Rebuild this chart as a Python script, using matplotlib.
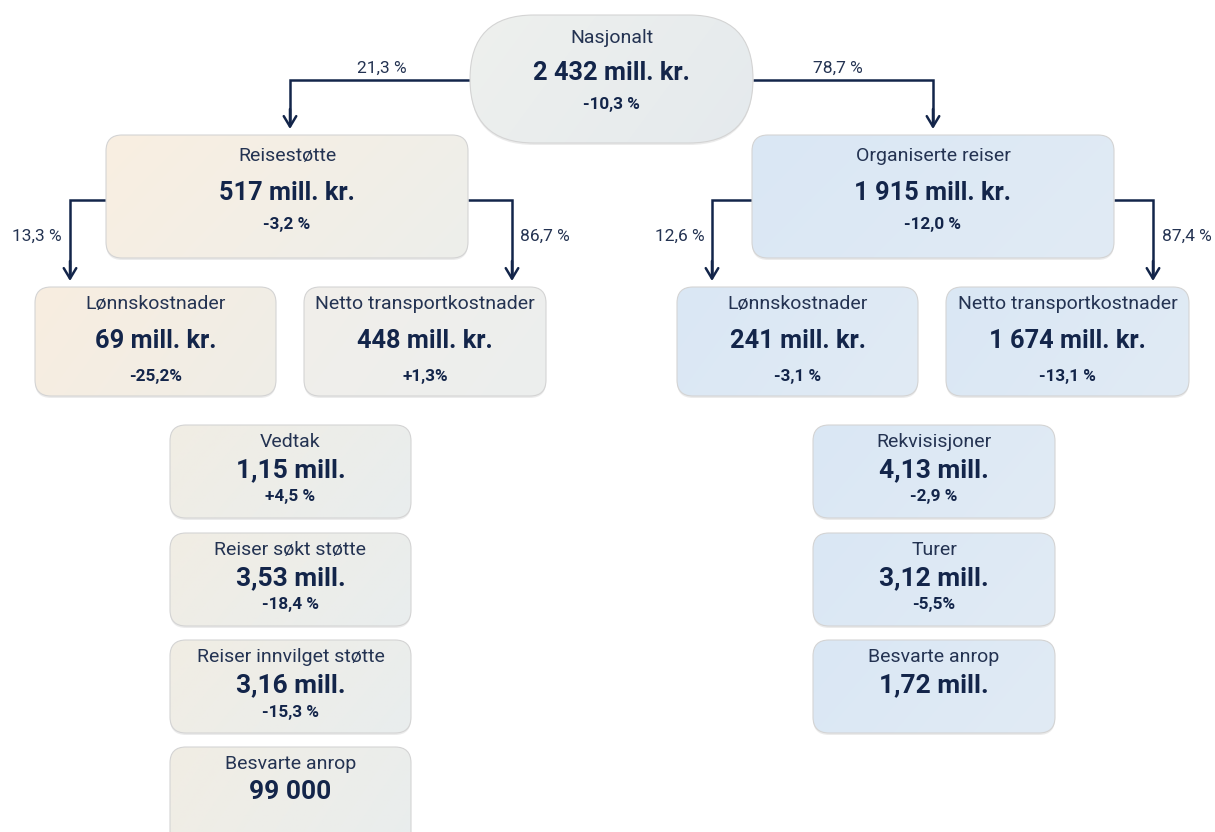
import numpy as np
import matplotlib
matplotlib.use("Agg")
import matplotlib.pyplot as plt
from matplotlib.patches import FancyBboxPatch
from matplotlib.colors import to_rgb

# ---------------- data ----------------
top_name = "Nasjonalt"
top_value = "2 432 mill. kr."
top_change = "-10,3 %"

l1_names = ["Reisestøtte", "Organiserte reiser"]
l1_values = ["517 mill. kr.", "1 915 mill. kr."]
l1_changes = ["-3,2 %", "-12,0 %"]
l1_shares = ["21,3 %", "78,7 %"]

l2_names = ["Lønnskostnader", "Netto transportkostnader", "Lønnskostnader", "Netto transportkostnader"]
l2_values = ["69 mill. kr.", "448 mill. kr.", "241 mill. kr.", "1 674 mill. kr."]
l2_changes = ["-25,2%", "+1,3%", "-3,1 %", "-13,1 %"]
l2_shares = ["13,3 %", "86,7 %", "12,6 %", "87,4 %"]

left_stat_names = ["Vedtak", "Reiser søkt støtte", "Reiser innvilget støtte", "Besvarte anrop"]
left_stat_values = ["1,15 mill.", "3,53 mill.", "3,16 mill.", "99 000"]
left_stat_changes = ["+4,5 %", "-18,4 %", "-15,3 %", ""]

right_stat_names = ["Rekvisisjoner", "Turer", "Besvarte anrop"]
right_stat_values = ["4,13 mill.", "3,12 mill.", "1,72 mill."]
right_stat_changes = ["-2,9 %", "-5,5%", ""]

# ---------------- style ----------------
plt.rcParams['font.family'] = ['Roboto', 'DejaVu Sans']
NAVY = "#13254a"
TXT = "#243352"
EDGE = "#d4d4d4"

W, H = 1215, 832
fig = plt.figure(figsize=(W / 100, H / 100), dpi=100)
ax = fig.add_axes([0, 0, 1, 1])
ax.set_axis_off()


def box(x0, y0, w, h, c1, c2, r=16):
    sh = FancyBboxPatch((x0, y0 + 2), w, h, boxstyle=f"round,pad=0,rounding_size={r}",
                        fc="#c8c8c8", ec="none", alpha=0.35, zorder=1)
    ax.add_patch(sh)
    patch = FancyBboxPatch((x0, y0), w, h, boxstyle=f"round,pad=0,rounding_size={r}",
                           fc="none", ec=EDGE, lw=0.8, zorder=3)
    ax.add_patch(patch)
    n = 64
    xx, yy = np.meshgrid(np.linspace(0, 1, n), np.linspace(0, 1, n))
    t = np.clip(0.75 * xx + 0.25 * yy, 0, 1)[..., None]
    a = np.array(to_rgb(c1)); b = np.array(to_rgb(c2))
    arr = a * (1 - t) + b * t
    im = ax.imshow(arr, extent=(x0, x0 + w, y0 + h, y0), origin="upper", zorder=2,
                   interpolation="bilinear", aspect="auto")
    im.set_clip_path(patch)


def texts(cx, y0, name, value, change, offs, vs=18.3):
    ax.text(cx, y0 + offs[0], name, ha="center", va="center", fontsize=14, color=TXT, zorder=4)
    ax.text(cx, y0 + offs[1], value, ha="center", va="center", fontsize=vs, fontweight="bold",
            color=NAVY, zorder=4)
    if change:
        ax.text(cx, y0 + offs[2], change, ha="center", va="center", fontsize=12.3,
                fontweight="bold", color=NAVY, zorder=4)


def connector(x_start, y_line, x_turn, y_tip):
    ax.plot([x_start, x_turn, x_turn], [y_line, y_line, y_tip - 6], color=NAVY, lw=1.8,
            solid_capstyle="butt", solid_joinstyle="miter", zorder=1.5)
    ax.annotate("", xy=(x_turn, y_tip), xytext=(x_turn, y_tip - 20),
                arrowprops=dict(arrowstyle="->,head_length=0.75,head_width=0.45",
                                color=NAVY, lw=1.8, shrinkA=0, shrinkB=0), zorder=1.5)


# top node
box(470, 15, 283, 128, "#eef0ed", "#e5eaee", r=64)
texts(611.5, 15, top_name, top_value, top_change, offs=(23, 58, 90))

# level 1
l1_geom = [(106, 135, 362, 123), (752, 135, 362, 123)]
l1_cols = [("#f9efe1", "#edeeeb"), ("#dae7f5", "#e1ebf4")]
for (x, y, w, h), (c1, c2), n, v, c in zip(l1_geom, l1_cols, l1_names, l1_values, l1_changes):
    box(x, y, w, h, c1, c2)
    texts(x + w / 2, y, n, v, c, offs=(21, 58, 90))

# connectors top -> level 1
connector(470, 80, 290, 129)
connector(753, 80, 933, 129)
ax.text(382, 68, l1_shares[0], ha="center", va="center", fontsize=12.5, color=TXT)
ax.text(838, 68, l1_shares[1], ha="center", va="center", fontsize=12.5, color=TXT)

# level 2
l2_geom = [(35, 287, 241, 109), (304, 287, 242, 109), (677, 287, 241, 109), (946, 287, 243, 109)]
l2_cols = [("#f8eee0", "#efede7"), ("#f1efea", "#eceeee"), ("#dae7f5", "#e1ebf4"), ("#dae7f5", "#e1ebf4")]
for (x, y, w, h), (c1, c2), n, v, c in zip(l2_geom, l2_cols, l2_names, l2_values, l2_changes):
    box(x, y, w, h, c1, c2)
    texts(x + w / 2, y, n, v, c, offs=(17, 54, 90))

# connectors level 1 -> level 2
connector(106, 200, 70, 281)
connector(468, 200, 512, 281)
connector(752, 200, 712, 281)
connector(1114, 200, 1153, 281)
for (tx, s) in zip([37, 545, 680, 1187], l2_shares):
    ax.text(tx, 236, s, ha="center", va="center", fontsize=12.5, color=TXT)

# stat boxes
stat_tops = [425, 533, 640, 747]
for i, (n, v, c) in enumerate(zip(left_stat_names, left_stat_values, left_stat_changes)):
    y = stat_tops[i]
    h = 93 if i < 3 else 120  # last box runs off the bottom edge
    box(170, y, 241, h, "#f1ede4", "#e9edee")
    texts(290.5, y, n, v, c, offs=(17, 45, 72), vs=19)
for i, (n, v, c) in enumerate(zip(right_stat_names, right_stat_values, right_stat_changes)):
    y = stat_tops[i]
    box(813, y, 242, 93, "#dae7f5", "#e1ebf4")
    texts(934, y, n, v, c, offs=(17, 45, 72), vs=19)

ax.set_xlim(0, W)
ax.set_ylim(H, 0)
fig.savefig("out.png", dpi=100, facecolor="white")
